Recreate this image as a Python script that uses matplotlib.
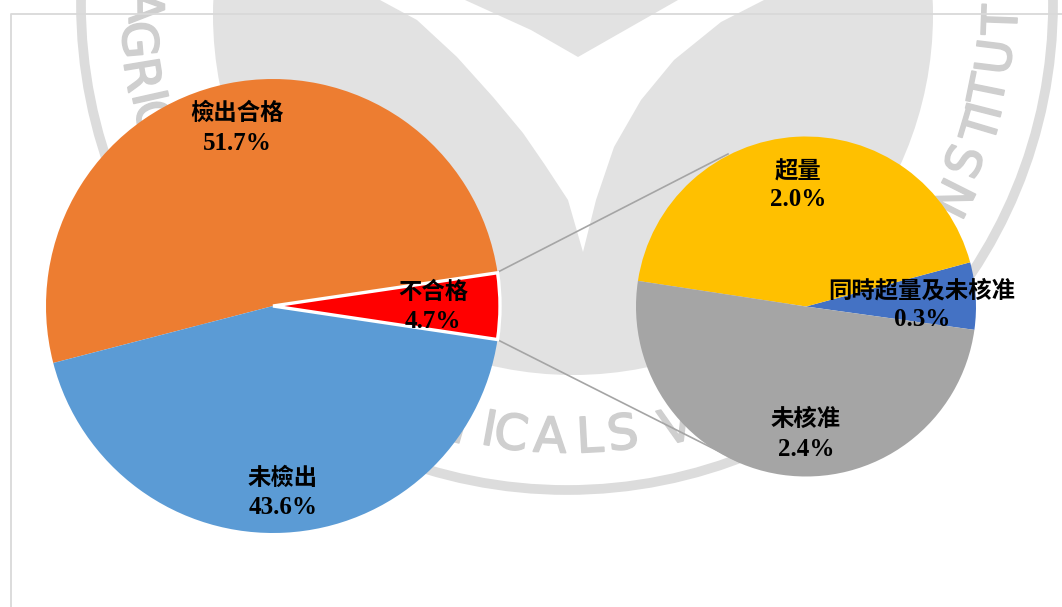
import math
import matplotlib
matplotlib.use("Agg")
import matplotlib.pyplot as plt
import matplotlib.patheffects as pe
from matplotlib.patches import Circle, Polygon

W, H = 1062, 607

# main pie
main_names = ["不合格", "檢出合格", "未檢出"]
main_values = [4.7, 51.7, 43.6]
main_colors = ["#FF0000", "#ED7D31", "#5B9BD5"]

# breakdown of the 不合格 slice
detail_names = ["同時超量及未核准", "超量", "未核准"]
detail_values = [0.30, 2.04, 2.36]
detail_colors = ["#4472C4", "#FFC000", "#A5A5A5"]

# label centres, picture pixels (name line, value line)
main_label_pos = [(433, 292, 321), (237, 113, 143), (283, 478, 508)]
detail_label_pos = [(922, 290, 320), (798, 172, 200), (806, 419, 449)]

# watermark letters around the seal, picture pixels
seal_letters = [
    ("A", 143, 7), ("G", 137, 40), ("R", 140, 75), ("I", 147, 98), ("C", 151, 118),
    ("M", 447, 425), ("I", 489, 431), ("C", 511, 435), ("A", 550, 438),
    ("L", 590, 438), ("S", 623, 435), ("V", 677, 428),
    ("N", 957, 200), ("S", 967, 162), ("T", 983, 128), ("I", 987, 111),
    ("T", 990, 90), ("U", 997, 57), ("T", 1003, 20),
]
# white gap between the two leaves of the seal
leaf_gap = [
    (380, 0), (417, 20), (457, 57), (493, 97), (523, 133), (545, 165), (568, 200),
    (583, 252), (596, 200), (614, 147), (641, 100), (674, 60), (721, 22), (764, 0),
    (678, 0), (578, 57), (531, 30), (465, 0),
]


def py(y):
    return H - y


fig = plt.figure(figsize=(W / 100, H / 100), dpi=100)
ax = fig.add_axes([0, 0, 1, 1])

# seal watermark
seal_c = (567, 4)
ax.add_patch(Circle((seal_c[0], py(seal_c[1])), 486, fill=False, ec="#DCDCDC", lw=7, zorder=0.2))
ax.add_patch(Circle((573, py(15)), 360, fc="#E2E2E2", ec="none", zorder=0.3))
ax.add_patch(Polygon([(x, py(y)) for x, y in leaf_gap], fc="white", ec="none", zorder=0.4))
for ch, x, y in seal_letters:
    rot = math.degrees(math.atan2(y - seal_c[1], seal_c[0] - x)) - 90
    t = ax.text(x, py(y), ch, fontsize=35, color="#CFCFCF", ha="center", va="center",
                rotation=rot, rotation_mode="anchor", family="DejaVu Sans", zorder=0.5)
    t.set_path_effects([pe.withStroke(linewidth=1.2, foreground="#CFCFCF")])

# outer frame, runs off the right and bottom of the picture
ax.plot([11, 11, W + 5], [py(H + 5), py(14), py(14)], color="#D9D9D9", lw=1.3, zorder=0.6)

# pies
main_c = (273, py(306))
detail_c = (806, py(306.5))
main_wedges, _ = ax.pie(main_values, colors=main_colors, center=main_c, radius=227,
                        startangle=-8.5, counterclock=True)
main_wedges[0].set_edgecolor("white")
main_wedges[0].set_linewidth(2.4)
main_wedges[0].set_zorder(1.2)
detail_wedges, _ = ax.pie(detail_values, colors=detail_colors, center=detail_c, radius=170,
                          startangle=-7.9, counterclock=True)

# connector lines from the red slice, ends hidden below the right pie
ax.plot([498, 728], [py(272), py(154)], color="#A5A5A5", lw=1.2, zorder=0.8)
ax.plot([498, 740], [py(340), py(462)], color="#A5A5A5", lw=1.2, zorder=0.8)

ax.set_xlim(0, W)
ax.set_ylim(0, H)
ax.set_aspect("equal")
ax.axis("off")


def add_labels(names, values, positions):
    for name, value, (x, y1, y2) in zip(names, values, positions):
        ax.text(x, py(y1), name, fontsize=16.8, fontweight="bold", ha="center", va="center",
                family=["Noto Sans CJK TC", "DejaVu Sans"], zorder=3)
        ax.text(x, py(y2), f"{value:.1f}%", fontsize=18, fontweight="bold", ha="center",
                va="center", family="Liberation Serif", zorder=3)


add_labels(main_names, main_values, main_label_pos)
add_labels(detail_names, detail_values, detail_label_pos)

fig.savefig("out.png", dpi=100)
